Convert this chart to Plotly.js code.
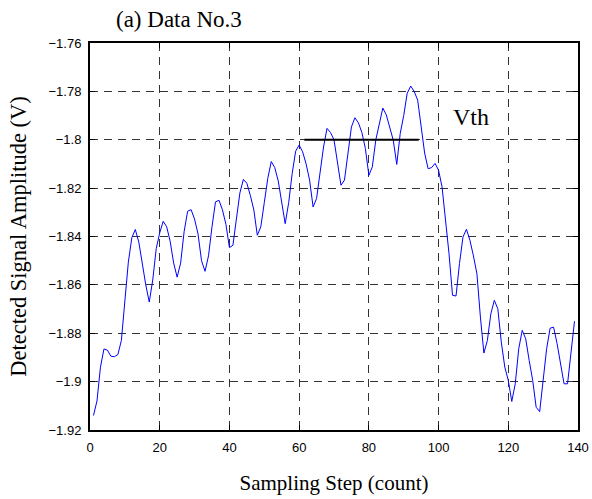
<!DOCTYPE html>
<html>
<head>
<meta charset="utf-8">
<script src="https://cdn.plot.ly/plotly-3.0.1.min.js"></script>
<style>html,body{margin:0;padding:0;background:#fff;}#chart{width:592px;height:499px;}</style>
</head>
<body>
<div id="chart"></div>
<script>
// Sampling steps 1..139
const steps = [];
for (let i = 1; i <= 139; i++) steps.push(i);

// Detected signal amplitude (V)
const amplitude = [
  -1.914, -1.908, -1.894, -1.8865, -1.887, -1.8895, -1.8897, -1.8888, -1.883, -1.866,
  -1.8506, -1.8405, -1.8371, -1.8423, -1.852, -1.860, -1.8671, -1.858, -1.845, -1.8385,
  -1.8337, -1.836, -1.842, -1.851, -1.8568, -1.851, -1.838, -1.8296, -1.8289, -1.8328,
  -1.839, -1.850, -1.8544, -1.848, -1.836, -1.8257, -1.825, -1.829, -1.835, -1.8446,
  -1.8436, -1.832, -1.822, -1.8164, -1.818, -1.823, -1.829, -1.8395, -1.836, -1.826,
  -1.816, -1.809, -1.8115, -1.817, -1.826, -1.8347, -1.826, -1.814, -1.8047, -1.8022,
  -1.805, -1.810, -1.8167, -1.8278, -1.8243, -1.813, -1.803, -1.7953, -1.797, -1.800,
  -1.810, -1.8188, -1.8167, -1.806, -1.7947, -1.7909, -1.793, -1.797, -1.8036, -1.8147,
  -1.8112, -1.800, -1.7935, -1.7869, -1.7897, -1.795, -1.8002, -1.8102, -1.7974, -1.790,
  -1.7808, -1.7778, -1.780, -1.7836, -1.7947, -1.8055, -1.812, -1.8115, -1.8098, -1.8126,
  -1.8195, -1.8333, -1.8471, -1.8643, -1.8646, -1.8512, -1.8402, -1.837, -1.8416, -1.848,
  -1.8554, -1.8733, -1.8882, -1.883, -1.8719, -1.8664, -1.8699, -1.8837, -1.894, -1.8995,
  -1.9082, -1.9009, -1.8864, -1.8788, -1.8823, -1.8913, -1.8995, -1.9106, -1.9124, -1.8995,
  -1.8864, -1.8779, -1.8775, -1.8843, -1.892, -1.9009, -1.9009, -1.8885, -1.875
];

// Threshold line
const vthX = [61.5, 94.3];
const vthY = [-1.8, -1.8];
const vthLabel = "Vth";

const xTicks = [0, 20, 40, 60, 80, 100, 120, 140];
const yTicks = [-1.92, -1.9, -1.88, -1.86, -1.84, -1.82, -1.8, -1.78, -1.76];
const yTickText = ["−1.92", "−1.9", "−1.88", "−1.86", "−1.84", "−1.82", "−1.8", "−1.78", "−1.76"];

const serif = "Liberation Serif, Times New Roman, serif";
const sans = "Liberation Sans, Arial, sans-serif";

const traces = [
  {x: steps, y: amplitude, type: "scatter", mode: "lines",
   line: {color: "#0000ff", width: 1}, hoverinfo: "skip"},
  {x: vthX, y: vthY, type: "scatter", mode: "lines",
   line: {color: "#000000", width: 2}, hoverinfo: "skip"}
];

const axisCommon = {
  showline: true, linecolor: "#000", linewidth: 2, mirror: "allticks",
  ticks: "inside", ticklen: 5, tickcolor: "#000", tickwidth: 1,
  showgrid: true, gridcolor: "#333", gridwidth: 1, griddash: "8px,6px",
  zeroline: false, ticklabelstandoff: 4,
  tickfont: {family: sans, size: 13, color: "#000"}
};

const layout = {
  width: 592, height: 499,
  margin: {l: 90, r: 14, t: 43, b: 69},
  paper_bgcolor: "#fff", plot_bgcolor: "#fff",
  showlegend: false,
  title: {text: "(a) Data No.3", font: {family: serif, size: 23, color: "#000"},
          x: 116/592, xanchor: "left", y: 1 - 19/499, yanchor: "middle"},
  xaxis: Object.assign({}, axisCommon, {
    range: [0, 140], tickvals: xTicks,
    title: {text: "Sampling Step (count)", font: {family: serif, size: 21, color: "#000"}, standoff: 22}
  }),
  yaxis: Object.assign({}, axisCommon, {
    range: [-1.92, -1.76], tickvals: yTicks, ticktext: yTickText,
    title: {text: "Detected Signal Amplitude (V)", font: {family: serif, size: 22.5, color: "#000"}, standoff: 16}
  }),
  annotations: [
    {x: 109.3, y: -1.7905, xref: "x", yref: "y", text: vthLabel, showarrow: false,
     font: {family: serif, size: 24, color: "#000"}}
  ]
};

Plotly.newPlot("chart", traces, layout, {displayModeBar: false, staticPlot: true});
</script>
</body>
</html>
